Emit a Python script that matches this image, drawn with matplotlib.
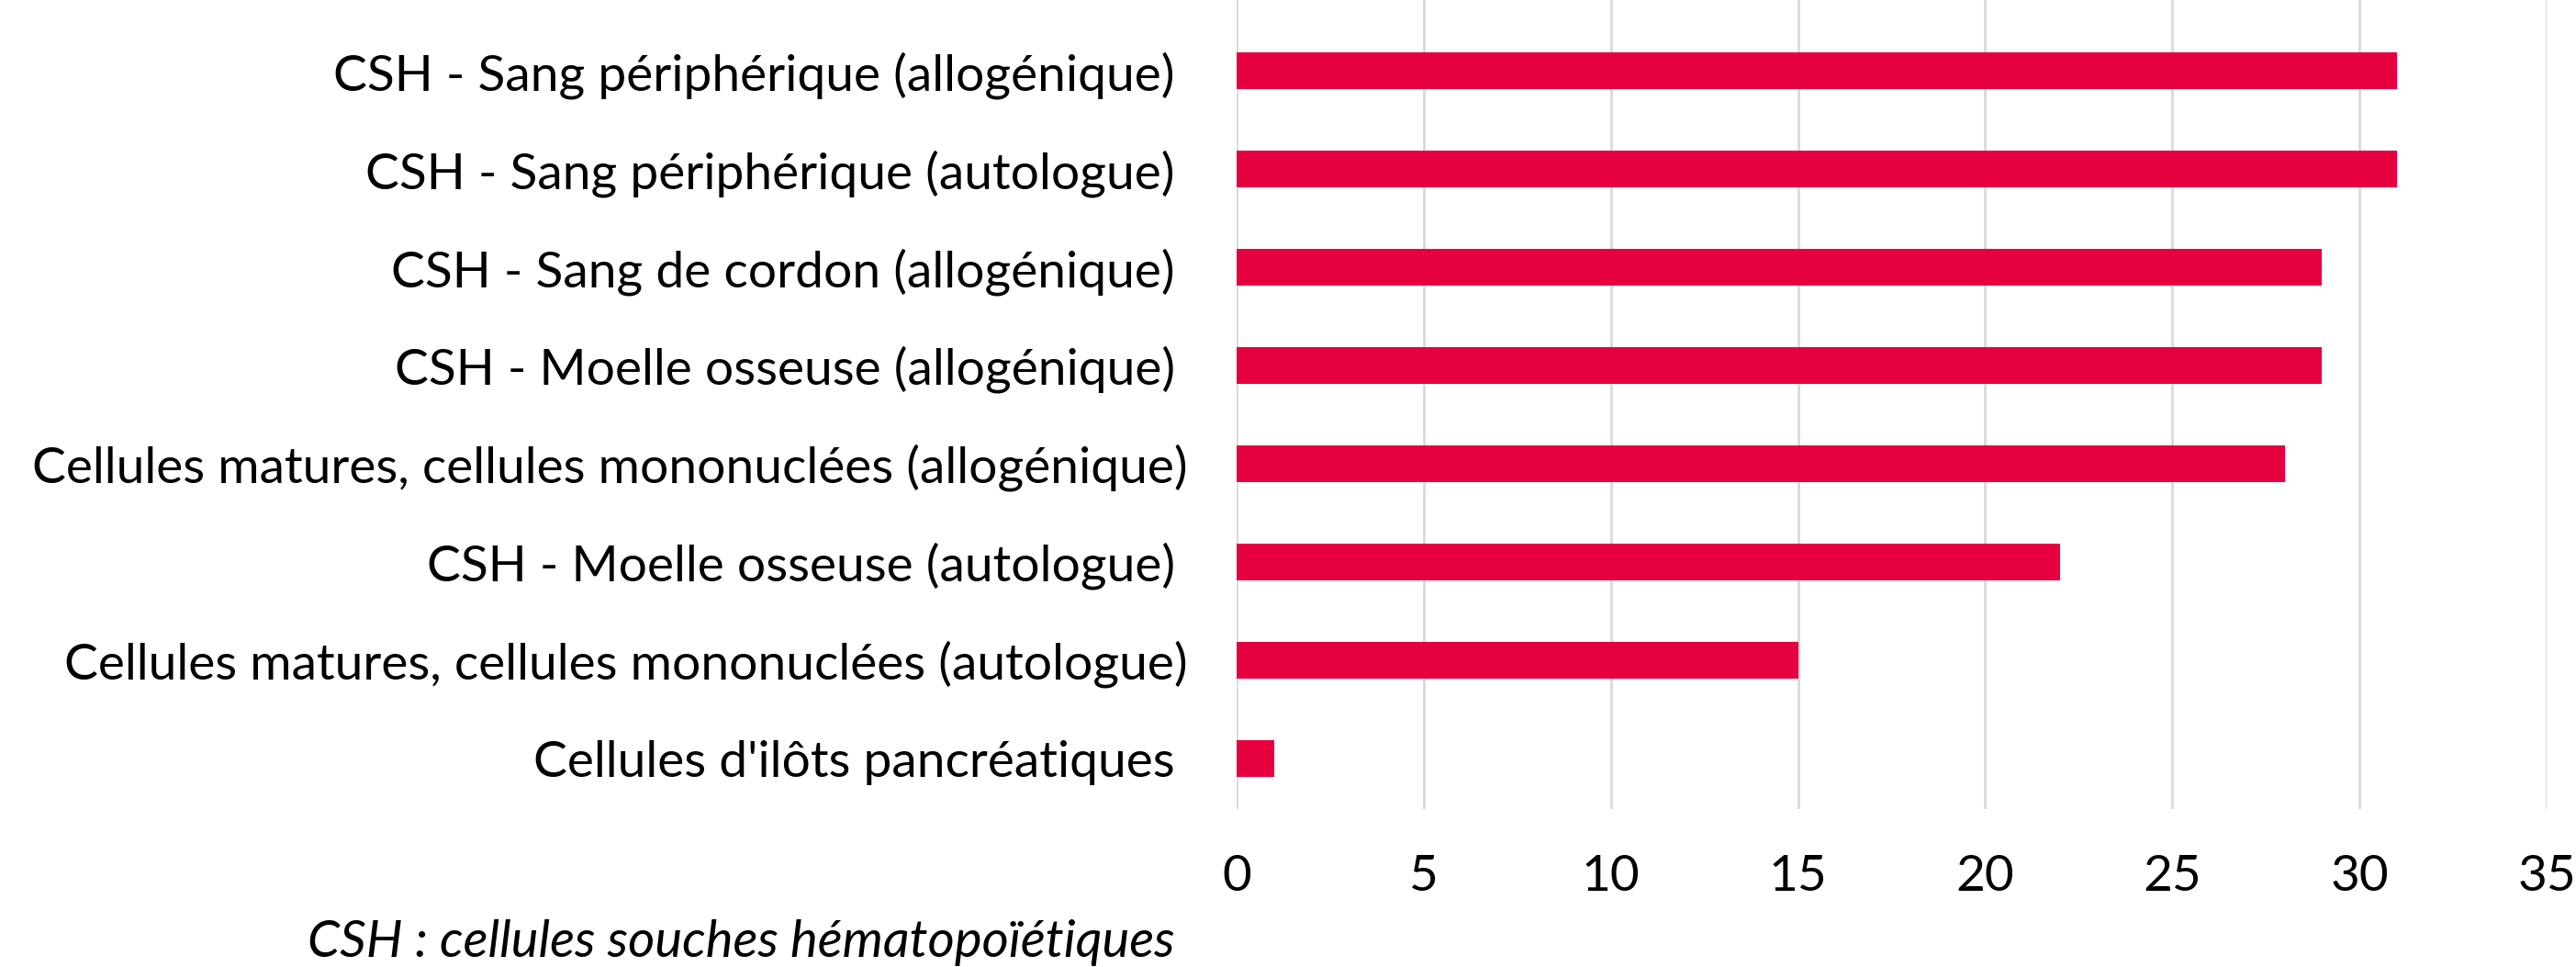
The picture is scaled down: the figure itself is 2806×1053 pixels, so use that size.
import matplotlib
matplotlib.use("Agg")
import matplotlib.pyplot as plt

plt.rcParams['font.family'] = ['Lato', 'DejaVu Sans']

# les libellés gardent l'espace final du tableau d'origine
categories = [
    "CSH - Sang périphérique (allogénique) ",
    "CSH - Sang périphérique (autologue) ",
    "CSH - Sang de cordon (allogénique) ",
    "CSH - Moelle osseuse (allogénique) ",
    "Cellules matures, cellules mononuclées (allogénique)",
    "CSH - Moelle osseuse (autologue) ",
    "Cellules matures, cellules mononuclées (autologue)",
    "Cellules d'ilôts pancréatiques ",
]
values = [31, 31, 29, 29, 28, 22, 15, 1]
xticks = [0, 5, 10, 15, 20, 25, 30, 35]

bar_color = "#E6003F"
grid_color = "#D9D9D9"

fig = plt.figure(figsize=(28.06, 10.53), dpi=100)
ax = fig.add_axes([0.480, 0.163, 0.5086, 0.837])

pos = list(range(len(categories)))
ax.barh(pos, values, height=0.37, color=bar_color, zorder=3)

ax.set_xlim(0, 35)
ax.set_ylim(7.52, -0.72)
ax.set_xticks(xticks)
ax.set_xticklabels([str(t) for t in xticks], fontsize=39.5)
ax.set_yticks(pos)
ax.set_yticklabels(categories, fontsize=39.7)
ax.tick_params(axis='y', length=0, pad=38)
ax.tick_params(axis='x', length=0, pad=35)

ax.grid(axis='x', color=grid_color, linewidth=2, zorder=0)
for s in ax.spines.values():
    s.set_visible(False)

fig.text(335 / 2806, 1 - 1027 / 1053, "CSH : cellules souches hématopoïétiques",
         fontsize=40.5, style='italic', ha='left', va='center')

fig.savefig("out.png", dpi=100)
